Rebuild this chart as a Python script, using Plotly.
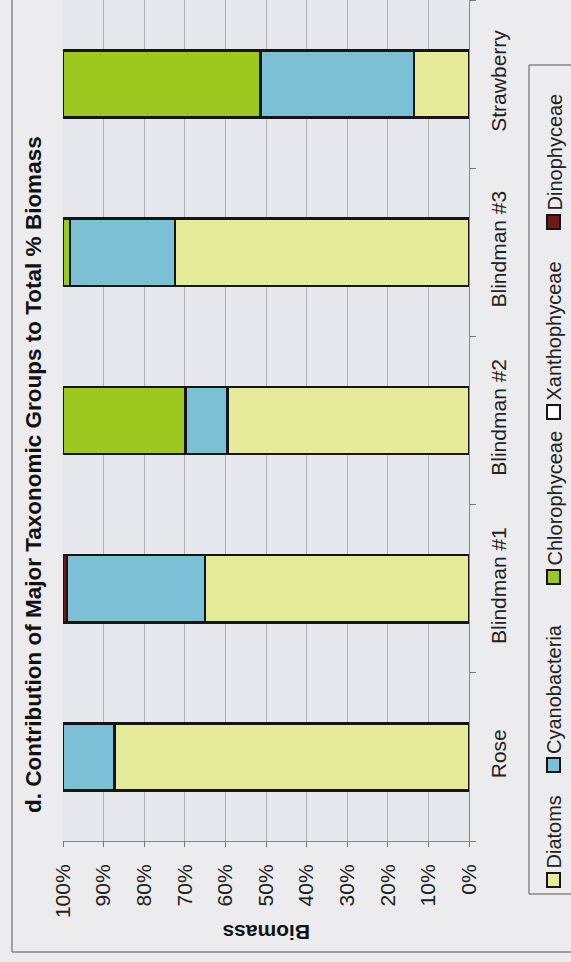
import plotly.graph_objects as go

# Percent contribution of each taxonomic group to total biomass, per lake
lakes = ["Rose", "Blindman #1", "Blindman #2", "Blindman #3", "Strawberry"]
diatoms = [87.3, 65.0, 59.5, 72.4, 13.5]
cyanobacteria = [12.7, 34.0, 10.3, 25.9, 37.9]
chlorophyceae = [0.0, 0.0, 30.2, 1.7, 48.6]
xanthophyceae = [0.0, 0.0, 0.0, 0.0, 0.0]
dinophyceae = [0.0, 1.0, 0.0, 0.0, 0.0]
pct_ticks = [0, 10, 20, 30, 40, 50, 60, 70, 80, 90, 100]

groups = ["Diatoms", "Cyanobacteria", "Chlorophyceae", "Xanthophyceae", "Dinophyceae"]
series = [diatoms, cyanobacteria, chlorophyceae, xanthophyceae, dinophyceae]
colors = ["#e6eb9a", "#7cc0d6", "#9cc820", "#ffffff", "#6e1a1a"]

FONT = "Arial, Liberation Sans, sans-serif"
W, H = 571, 962
ML, MR, MT, MB = 63, 102, 0, 121
PW, PH = W - ML - MR, H - MT - MB


def px(x):
    return (x - ML) / PW


def py(y):
    return (H - MB - y) / PH


fig = go.Figure()
for name, vals, col in zip(groups, series, colors):
    fig.add_trace(go.Bar(
        y=lakes,
        x=[v if v > 0 else None for v in vals],
        name=name,
        orientation="h",
        marker=dict(color=col, line=dict(color="#151515", width=2.5)),
        showlegend=False,
    ))

fig.update_layout(
    width=W, height=H,
    margin=dict(l=ML, r=MR, t=MT, b=MB),
    barmode="stack",
    bargap=0.6,
    paper_bgcolor="#ececee",
    plot_bgcolor="#e7e7ee",
    font=dict(family=FONT, size=21, color="#222222"),
)

fig.update_xaxes(
    range=[100, 0],
    tickvals=pct_ticks,
    ticktext=[f"{t}%" for t in pct_ticks],
    tickangle=-90,
    ticks="outside", ticklen=5, tickcolor="#777777",
    ticklabelstandoff=9,
    showgrid=True, gridcolor="#b0b0b0", gridwidth=1,
    showline=True, linecolor="#888888", linewidth=1,
    zeroline=False,
    tickfont=dict(size=21),
)
fig.update_yaxes(
    side="right",
    categoryorder="array", categoryarray=lakes,
    tickangle=-90,
    ticks="outside", ticklen=6, tickcolor="#777777",
    tickson="boundaries",
    ticklabelstandoff=11,
    showgrid=False,
    showline=True, linecolor="#888888", linewidth=1,
    tickfont=dict(size=21),
)

# Title and value-axis label, oriented with the rotated layout
fig.add_annotation(
    text="<b>d. Contribution of Major Taxonomic Groups to Total % Biomass</b>",
    xref="paper", yref="paper", x=px(33), y=py(475),
    textangle=-90, showarrow=False, xanchor="center", yanchor="middle",
    font=dict(size=22.5, color="#111111"),
)
fig.add_annotation(
    text="<b>Biomass</b>",
    xref="paper", yref="paper", x=0.5, y=py(933),
    textangle=180, showarrow=False, xanchor="center", yanchor="middle",
    font=dict(size=21, color="#111111"),
)

shapes = []
# Outer chart frame
shapes.append(dict(type="rect", xref="paper", yref="paper",
                   x0=px(12), x1=px(590), y0=py(952), y1=py(-20),
                   line=dict(color="#555555", width=1), fillcolor="rgba(0,0,0,0)",
                   layer="below"))
# Legend frame
shapes.append(dict(type="rect", xref="paper", yref="paper",
                   x0=px(529), x1=px(590), y0=py(894), y1=py(65),
                   line=dict(color="#555555", width=1), fillcolor="rgba(0,0,0,0)"))

# Legend entries, stacked from the bottom of the frame upwards
swatch_y = [880, 765, 577, 412, 222]
for name, col, cy in zip(groups, colors, swatch_y):
    shapes.append(dict(type="rect", xref="paper", yref="paper",
                       x0=px(547), x1=px(560), y0=py(cy + 7), y1=py(cy - 7),
                       line=dict(color="#151515", width=2), fillcolor=col))
    fig.add_annotation(
        text=name, xref="paper", yref="paper",
        x=px(554), y=py(cy - 9),
        textangle=-90, showarrow=False, xanchor="center", yanchor="bottom",
        font=dict(size=20, color="#222222"),
    )

fig.update_layout(shapes=shapes)
fig.write_html("out.html")
